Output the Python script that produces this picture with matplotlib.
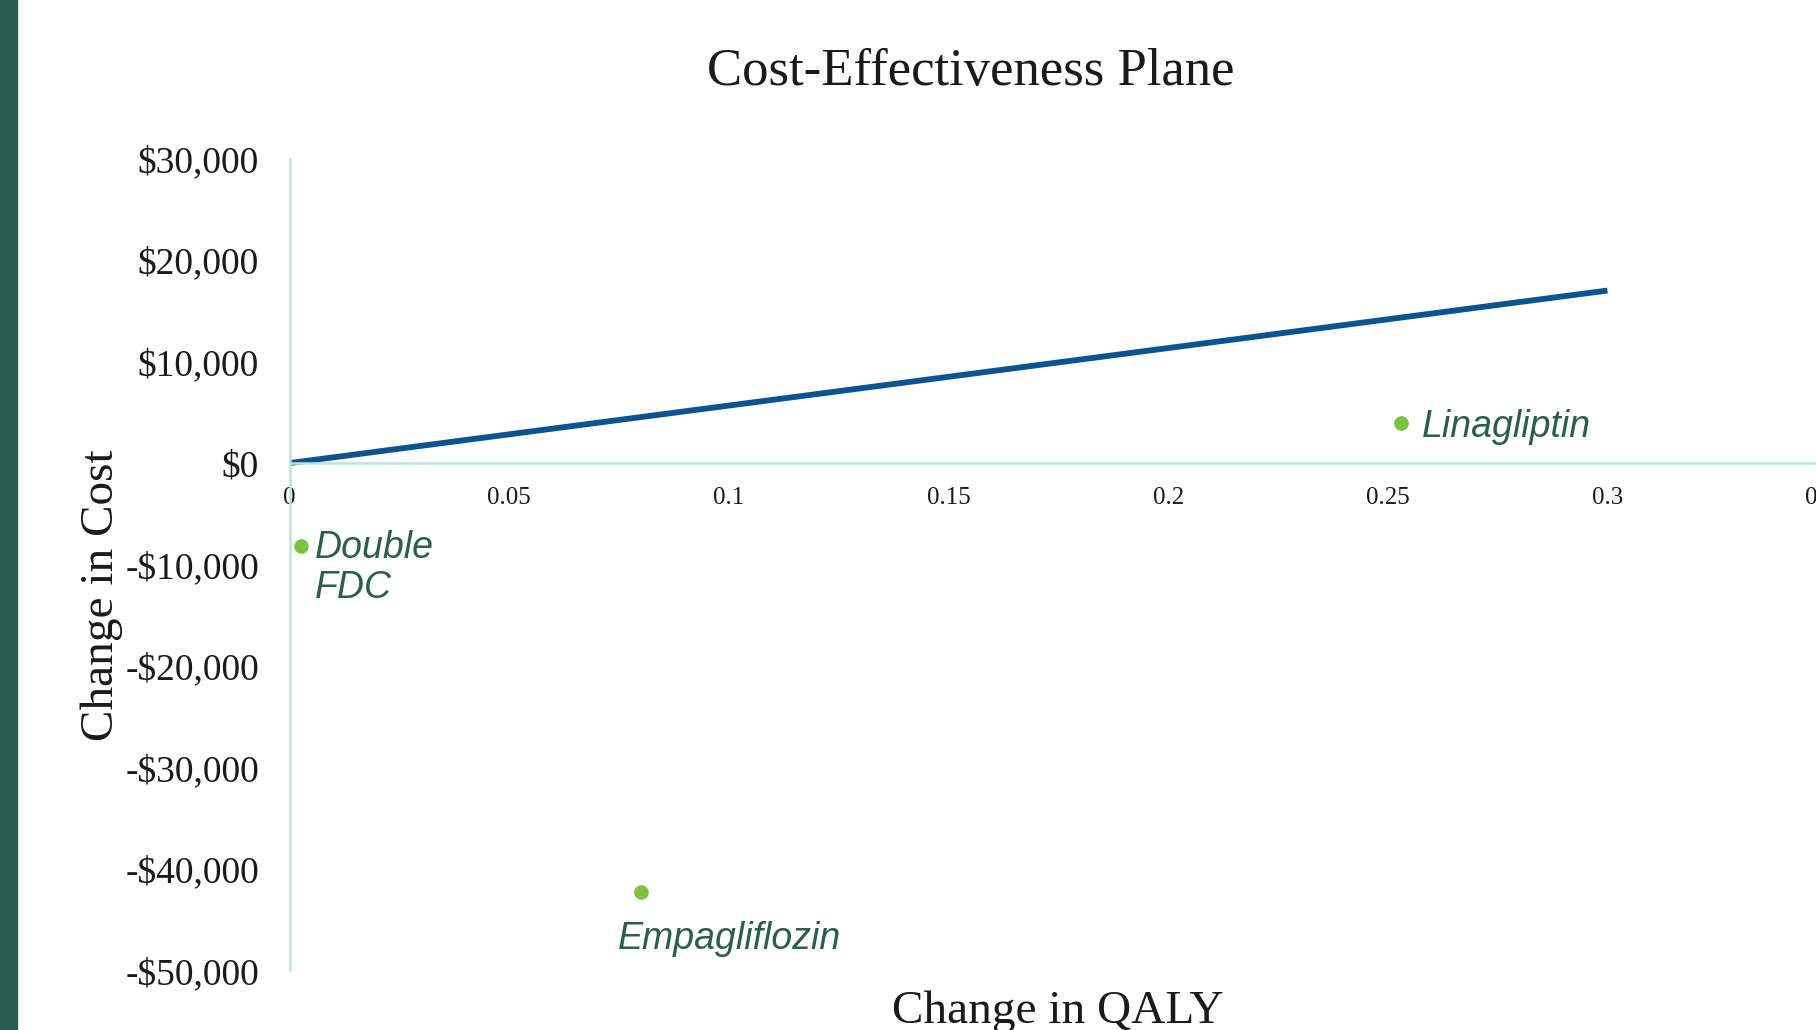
import matplotlib.pyplot as plt
from matplotlib.patches import Rectangle
from matplotlib.ticker import FuncFormatter

# willingness-to-pay line
wtp_qaly = [0, 0.3]
wtp_cost = [0, 17000]

# drug comparisons (change in QALY, change in cost)
drugs = ["Linagliptin", "Double\nFDC", "Empagliflozin"]
d_qaly = [0.253, 0.0025, 0.080]
d_cost = [3900, -8200, -42300]
label_offsets = [(15, -10), (10, -37), (-17, -41)]  # points

x_ticks = [0, 0.05, 0.1, 0.15, 0.2, 0.25, 0.3, 0.35]
y_ticks = [30000, 20000, 10000, 0, -10000, -20000, -30000, -40000, -50000]

serif = "Liberation Serif"
txt_green = "#2a5e4e"
axis_col = "#bfe3da"

fig = plt.figure(figsize=(18.16, 10.30), dpi=100)
ax = fig.add_axes([0.1595, 0.0578, 0.8466, 0.7882])

ax.plot(wtp_qaly, wtp_cost, color="#0b5391", lw=4.2, solid_capstyle="butt")
ax.plot(d_qaly, d_cost, "o", color="#7dc242", ms=9.5, ls="none")

for name, x, y, off in zip(drugs, d_qaly, d_cost, label_offsets):
    ax.annotate(name, (x, y), xytext=off, textcoords="offset points",
                ha="left", va="baseline", fontsize=27, style="italic",
                family="Liberation Sans", color=txt_green, linespacing=1.12)

ax.set_xlim(0, 0.35)
ax.set_ylim(-50000, 30000)
ax.set_xticks(x_ticks)
ax.set_yticks(y_ticks)
ax.xaxis.set_major_formatter(FuncFormatter(lambda v, p: f"{v:g}"))
ax.yaxis.set_major_formatter(FuncFormatter(
    lambda v, p: f"${v:,.0f}" if v >= 0 else f"-${-v:,.0f}"))

for s in ["top", "right"]:
    ax.spines[s].set_visible(False)
ax.spines["bottom"].set_position(("data", 0))
ax.spines["left"].set_position(("data", 0))
for s in ["bottom", "left"]:
    ax.spines[s].set_color(axis_col)
    ax.spines[s].set_linewidth(1.8)

ax.tick_params(axis="x", length=0, pad=17.5, labelsize=18, labelcolor="#1a1a1a")
ax.tick_params(axis="y", length=0, pad=22, labelsize=27, labelcolor="#1a1a1a")
for lab in ax.get_xticklabels() + ax.get_yticklabels():
    lab.set_family(serif)

fig.text(0.5345, 0.917, "Cost-Effectiveness Plane", ha="center", va="baseline",
         fontsize=38, family=serif, color="#1a1a1a")
fig.text(0.0562, 0.422, "Change in Cost", rotation=90, ha="center", va="center",
         fontsize=34, family=serif, color="#1a1a1a")
fig.text(0.5826, 0.007, "Change in QALY", ha="center", va="baseline",
         fontsize=34, family=serif, color="#1a1a1a")

fig.patches.append(Rectangle((0, 0), 17 / 1816, 1, transform=fig.transFigure,
                             color="#2a5e4e", zorder=5))

fig.savefig("out.png", dpi=100)
